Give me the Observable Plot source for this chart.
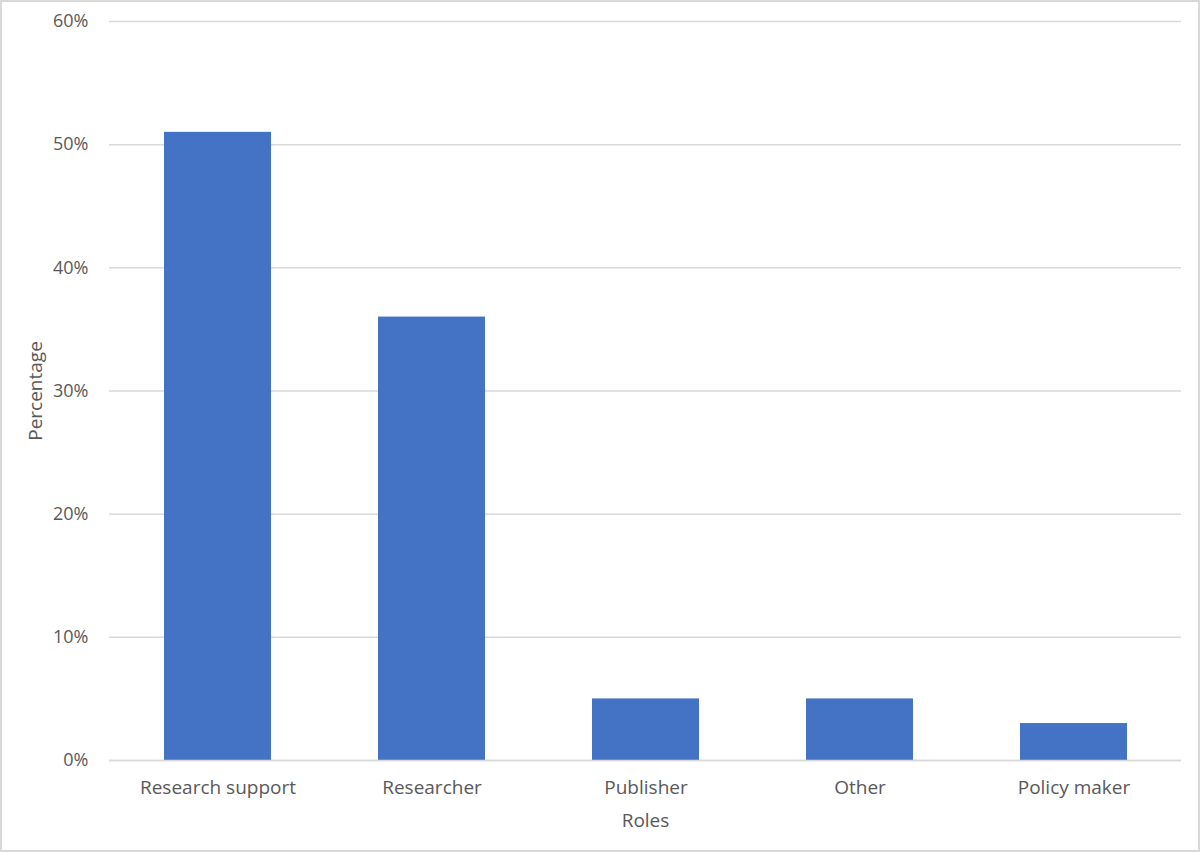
<!DOCTYPE html>
<html>
<head>
<meta charset="utf-8">
<script src="https://cdn.jsdelivr.net/npm/d3@7"></script>
<script src="https://cdn.jsdelivr.net/npm/@observablehq/plot@0.6"></script>
<style>
  html, body { margin: 0; padding: 0; background: #fff; }
  #wrap { position: relative; width: 1200px; height: 852px; }
  #frame { position: absolute; left: 0; top: 0; width: 1200px; height: 852px; box-sizing: border-box; border: 2px solid #d9d9d9; pointer-events: none; }
  svg { display: block; }
</style>
</head>
<body>
<div id="wrap"><div id="chart"></div><div id="frame"></div></div>
<script>
const roles = ["Research support", "Researcher", "Publisher", "Other", "Policy maker"];
const percentages = [51, 36, 5, 5, 3];
const yTicks = [0, 10, 20, 30, 40, 50, 60];
const xTitle = "Roles";
const yTitle = "Percentage";

const data = roles.map((r, i) => ({role: r, value: percentages[i]}));

const chart = Plot.plot({
  width: 1200,
  height: 852,
  marginLeft: 109,
  marginRight: 19,
  marginTop: 21,
  marginBottom: 92,
  style: {fontFamily: "'Open Sans', sans-serif", fontSize: "18px", color: "#595959", background: "#fff"},
  x: {domain: roles, paddingInner: 0.5, paddingOuter: 0.25},
  y: {domain: [0, 60], ticks: yTicks},
  marks: [
    Plot.gridY(yTicks, {stroke: "#d9d9d9", strokeOpacity: 1, strokeWidth: 1.5}),
    Plot.barY(data, {x: "role", y: "value", fill: "#4472c4"}),
    Plot.ruleY([0], {stroke: "#d9d9d9", strokeWidth: 1.5}),
    Plot.axisY(yTicks, {tickSize: 0, tickPadding: 21, tickFormat: d => d + "%", fontSize: 18, fill: "#595959", label: null}),
    Plot.axisX({tickSize: 0, tickPadding: 20, fontSize: 19, fill: "#595959", label: null}),
    Plot.text([xTitle], {frameAnchor: "bottom", lineAnchor: "middle", dy: 60, fontSize: 19, fill: "#595959"}),
    Plot.text([yTitle], {frameAnchor: "left", textAnchor: "middle", lineAnchor: "middle", dx: -74, rotate: -90, fontSize: 19, fill: "#595959"})
  ]
});
document.getElementById("chart").appendChild(chart);
</script>
</body>
</html>
